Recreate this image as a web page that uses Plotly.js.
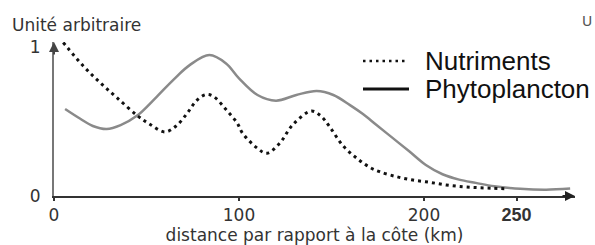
<!DOCTYPE html>
<html>
<head>
<meta charset="utf-8">
<script src="https://cdn.plot.ly/plotly-3.0.1.min.js"></script>
<style>html,body{margin:0;padding:0;background:#fff;}#chart{width:595px;height:245px;}</style>
</head>
<body>
<div id="chart"></div>
<script>
// Distance from the coast (km)
const nutrimentsKm = [5, 16, 25, 34, 45, 52, 60, 66, 72, 77, 82, 86, 93, 99, 102, 110, 115, 122, 129, 139, 144, 149, 156, 164, 171, 176, 185, 194, 203, 212, 221, 229, 237, 245];
const nutrimentsVal = [1.03, 0.87, 0.76, 0.66, 0.54, 0.48, 0.43, 0.47, 0.555, 0.64, 0.68, 0.67, 0.58, 0.49, 0.42, 0.32, 0.287, 0.354, 0.477, 0.57, 0.54, 0.465, 0.34, 0.25, 0.19, 0.163, 0.13, 0.107, 0.092, 0.074, 0.062, 0.056, 0.052, 0.048];

const phytoKm = [6, 14, 21, 28.5, 36, 45, 55.5, 64.5, 73.5, 84, 93, 100, 110, 120, 131, 142, 151, 160, 167, 174, 183, 192, 201, 210, 219, 228, 238, 252, 266, 279];
const phytoVal = [0.584, 0.52, 0.47, 0.45, 0.476, 0.54, 0.666, 0.78, 0.88, 0.946, 0.89, 0.79, 0.678, 0.64, 0.678, 0.705, 0.678, 0.61, 0.55, 0.48, 0.39, 0.30, 0.208, 0.146, 0.11, 0.088, 0.065, 0.048, 0.042, 0.05];

const xTickVals = [0, 100, 200, 250];
const xTickText = ['0', '100', '200', '<span style="font-family:Liberation Sans;font-weight:bold;font-size:18px">250</span>'];
const yTickVals = [0, 1];
const yTickText = ['0', '1'];

const seriesNames = ['Nutriments', 'Phytoplancton'];
const yTitle = 'Unité arbitraire';
const xTitle = 'distance par rapport à la côte (km)';

const traces = [
  {x: phytoKm, y: phytoVal, type: 'scatter', mode: 'lines', name: seriesNames[1],
   line: {color: '#8a8a8a', width: 2.5, shape: 'spline', smoothing: 1}},
  {x: nutrimentsKm, y: nutrimentsVal, type: 'scatter', mode: 'lines', name: seriesNames[0],
   line: {color: '#111', width: 3, dash: '3px,4px', shape: 'spline', smoothing: 1}}
];

const L = 54, R = 20, T = 42, B = 49, W = 595, H = 245;
const pw = W - L - R, ph = H - T - B;
const px = v => (v - L) / pw;
const py = v => (H - B - v) / ph;
const XMAX = pw / 1.85, YMAX = ph / 149;
const font = 'DejaVu Sans, Verdana, sans-serif';

const layout = {
  width: W, height: H,
  margin: {l: L, r: R, t: T, b: B, pad: 0},
  paper_bgcolor: '#fff', plot_bgcolor: '#fff',
  showlegend: false,
  xaxis: {
    range: [0, XMAX], showgrid: false, zeroline: false,
    showline: true, linecolor: '#333', linewidth: 2,
    ticks: 'outside', ticklen: 3, tickwidth: 2, tickcolor: '#333',
    tickvals: xTickVals, ticktext: xTickText,
    tickfont: {family: font, size: 17, color: '#333'},
    title: {text: xTitle, font: {family: font, size: 17, color: '#333'}, standoff: 5}
  },
  yaxis: {
    range: [0, YMAX], showgrid: false, zeroline: false,
    showline: true, linecolor: '#777', linewidth: 2,
    ticks: '', tickvals: yTickVals, ticktext: yTickText,
    ticklabelstandoff: 8,
    tickfont: {family: font, size: 17, color: '#333'}
  },
  shapes: [
    {type: 'line', xref: 'paper', yref: 'paper', x0: px(363), x1: px(408), y0: py(61), y1: py(61),
     line: {color: '#111', width: 2.5, dash: '2.5px,4px'}},
    {type: 'line', xref: 'paper', yref: 'paper', x0: px(363), x1: px(409), y0: py(89), y1: py(89),
     line: {color: '#111', width: 3}}
  ],
  annotations: [
    {x: XMAX, y: 0, xref: 'x', yref: 'y', ax: -14, ay: 0, text: '', showarrow: true,
     arrowhead: 2, arrowsize: 1, arrowwidth: 2, arrowcolor: '#222'},
    {x: 0, y: YMAX, xref: 'x', yref: 'y', ax: 0, ay: 14, text: '', showarrow: true,
     arrowhead: 2, arrowsize: 1, arrowwidth: 2, arrowcolor: '#444'},
    {x: px(10), y: py(25), xref: 'paper', yref: 'paper', xanchor: 'left', yanchor: 'middle',
     text: yTitle, showarrow: false, font: {family: font, size: 17, color: '#333'}},
    {x: px(423), y: py(61), xref: 'paper', yref: 'paper', xanchor: 'left', yanchor: 'middle',
     text: seriesNames[0], showarrow: false, font: {family: 'Liberation Sans, Arial, sans-serif', size: 26, color: '#111'}},
    {x: px(423), y: py(89), xref: 'paper', yref: 'paper', xanchor: 'left', yanchor: 'middle',
     text: seriesNames[1], showarrow: false, font: {family: 'Liberation Sans, Arial, sans-serif', size: 26, color: '#111'}},
    {x: px(580), y: py(21), xref: 'paper', yref: 'paper', xanchor: 'left', yanchor: 'middle',
     text: 'U', showarrow: false, font: {family: font, size: 14, color: '#555'}}
  ]
};

Plotly.newPlot('chart', traces, layout, {staticPlot: true, displayModeBar: false});
</script>
</body>
</html>
